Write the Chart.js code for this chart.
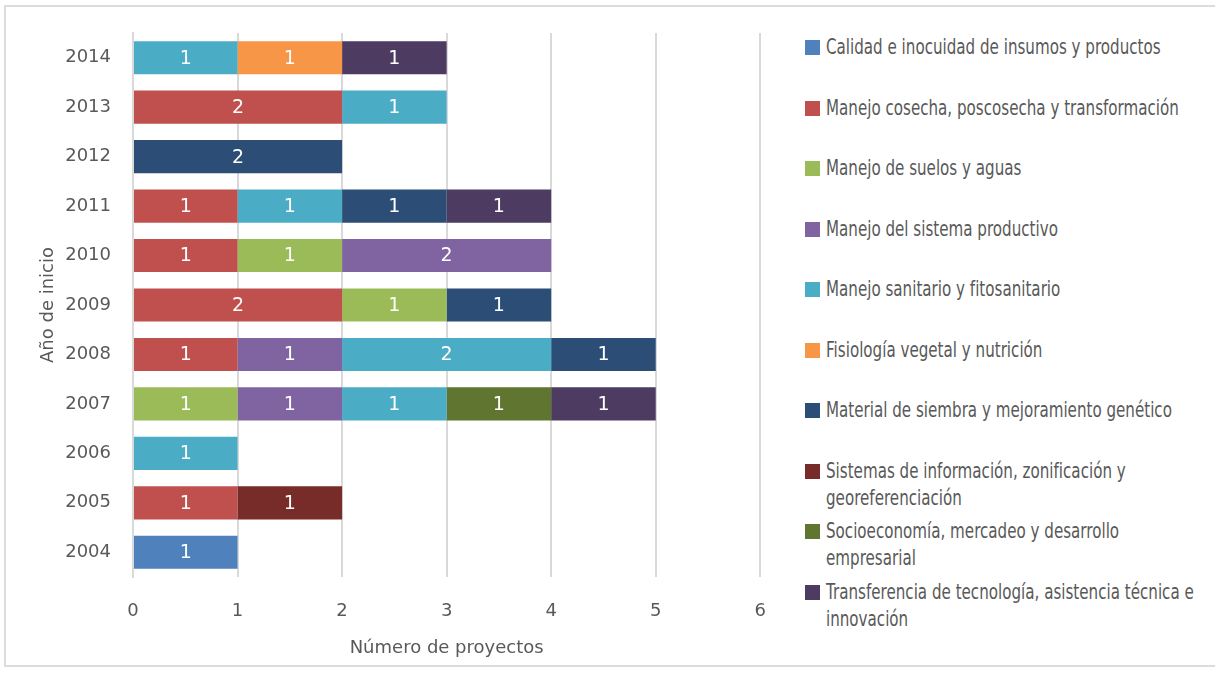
<!DOCTYPE html>
<html lang="es">
<head>
<meta charset="utf-8">
<title>Proyectos por año de inicio</title>
<script src="https://cdn.jsdelivr.net/npm/chart.js@4/dist/chart.umd.min.js"></script>
<style>
  html, body { margin: 0; padding: 0; background: #fff; }
  body { width: 1215px; height: 675px; position: relative; overflow: hidden;
         font-family: 'DejaVu Sans', sans-serif; }
  .frame { position: absolute; left: 4px; top: 5px; width: 1220px; height: 662px;
           border: 2px solid #dcdcdc; box-sizing: border-box; }
  #chart-box { position: absolute; left: 0; top: 0; width: 790px; height: 675px; }
  #legend { position: absolute; left: 805px; top: 34px; width: 560px; margin: 0; padding: 0; list-style: none; }
  #legend li { height: 60.5px; display: flex; align-items: flex-start; }
  #legend .sw { width: 15px; height: 15px; flex: 0 0 15px; margin-top: 6px; margin-right: 6px; }
  /* condensed look for the legend text */
  #legend .tx { display: block; color: #595959; font-size: 21px; line-height: 27px; flex: 0 0 522px;
                transform: scaleX(0.72); transform-origin: left top; }
</style>
</head>
<body>
<div class="frame"></div>
<div id="chart-box"><canvas id="projects-chart"></canvas></div>
<ul id="legend"></ul>
<script>
// Years, top to bottom
const years = ['2014', '2013', '2012', '2011', '2010', '2009', '2008', '2007', '2006', '2005', '2004'];

const categories = [
  'Calidad e inocuidad de insumos y productos',
  'Manejo cosecha, poscosecha y transformación',
  'Manejo de suelos y aguas',
  'Manejo del sistema productivo',
  'Manejo sanitario y fitosanitario',
  'Fisiología vegetal y nutrición',
  'Material de siembra y mejoramiento genético',
  'Sistemas de información, zonificación y georeferenciación',
  'Socioeconomía, mercadeo y desarrollo empresarial',
  'Transferencia de tecnología, asistencia técnica e innovación'
];

const colors = ['#4F81BD', '#C0504D', '#9BBB59', '#8064A2', '#4BACC6',
                '#F79646', '#2C4D75', '#772C2A', '#5F7530', '#4D3B62'];

// Number of projects per category, same order as years
const calidad       = [0, 0, 0, 0, 0, 0, 0, 0, 0, 0, 1];
const cosecha       = [0, 2, 0, 1, 1, 2, 1, 0, 0, 1, 0];
const suelos        = [0, 0, 0, 0, 1, 1, 0, 1, 0, 0, 0];
const sistema       = [0, 0, 0, 0, 2, 0, 1, 1, 0, 0, 0];
const sanitario     = [1, 1, 0, 1, 0, 0, 2, 1, 1, 0, 0];
const fisiologia    = [1, 0, 0, 0, 0, 0, 0, 0, 0, 0, 0];
const material      = [0, 0, 2, 1, 0, 1, 1, 0, 0, 0, 0];
const informacion   = [0, 0, 0, 0, 0, 0, 0, 0, 0, 1, 0];
const socioeconomia = [0, 0, 0, 0, 0, 0, 0, 1, 0, 0, 0];
const transferencia = [1, 0, 0, 1, 0, 0, 0, 1, 0, 0, 0];

const series = [calidad, cosecha, suelos, sistema, sanitario,
                fisiologia, material, informacion, socioeconomia, transferencia];

const xTicks = [0, 1, 2, 3, 4, 5, 6];

const FONT = "'DejaVu Sans', sans-serif";
const TEXT = '#595959';
const GRID = '#d9d9d9';

// White value labels centred in each segment
const segmentLabels = {
  id: 'segmentLabels',
  afterDatasetsDraw(chart) {
    const ctx = chart.ctx;
    ctx.save();
    ctx.fillStyle = '#fff';
    ctx.font = '19px ' + FONT;
    ctx.textAlign = 'center';
    ctx.textBaseline = 'middle';
    chart.data.datasets.forEach((ds, i) => {
      const meta = chart.getDatasetMeta(i);
      meta.data.forEach((bar, j) => {
        const v = ds.data[j];
        if (!v) return;
        ctx.fillText(String(v), (bar.x + bar.base) / 2, bar.y + 1);
      });
    });
    ctx.restore();
  }
};

const chart = new Chart(document.getElementById('projects-chart'), {
  type: 'bar',
  data: {
    labels: years,
    datasets: series.map((data, i) => ({
      label: categories[i],
      data: data,
      backgroundColor: colors[i],
      borderWidth: 0,
      categoryPercentage: 1,
      barPercentage: 0.67
    }))
  },
  options: {
    indexAxis: 'y',
    responsive: true,
    maintainAspectRatio: false,
    animation: false,
    layout: { padding: { left: 38, top: 33, right: 28, bottom: 16 } },
    plugins: {
      legend: { display: false },
      tooltip: { enabled: false }
    },
    scales: {
      x: {
        stacked: true,
        min: 0,
        max: 6,
        afterBuildTicks(scale) { scale.ticks = xTicks.map(v => ({ value: v })); },
        grid: { color: GRID, lineWidth: 2, drawTicks: false },
        border: { display: false },
        ticks: { color: TEXT, font: { family: FONT, size: 18 }, padding: 24 },
        title: {
          display: true,
          text: 'Número de proyectos',
          color: TEXT,
          font: { family: FONT, size: 18 },
          padding: { top: 0, bottom: 0 }
        },
        afterFit(scale) { scale.height = 82; }
      },
      y: {
        stacked: true,
        grid: { display: false, drawTicks: false },
        border: { display: true, color: GRID, width: 2 },
        ticks: { color: TEXT, font: { family: FONT, size: 18 }, padding: 22 },
        title: {
          display: true,
          text: 'Año de inicio',
          color: TEXT,
          font: { family: FONT, size: 18 },
          padding: { top: 0, bottom: 4 }
        },
        afterFit(scale) { scale.width = 95; }
      }
    }
  },
  plugins: [segmentLabels]
});

// Legend on the right
const legend = document.getElementById('legend');
categories.forEach((name, i) => {
  const li = document.createElement('li');
  const sw = document.createElement('span');
  sw.className = 'sw';
  sw.style.background = colors[i];
  const tx = document.createElement('span');
  tx.className = 'tx';
  tx.textContent = name;
  li.appendChild(sw);
  li.appendChild(tx);
  legend.appendChild(li);
});
</script>
</body>
</html>
